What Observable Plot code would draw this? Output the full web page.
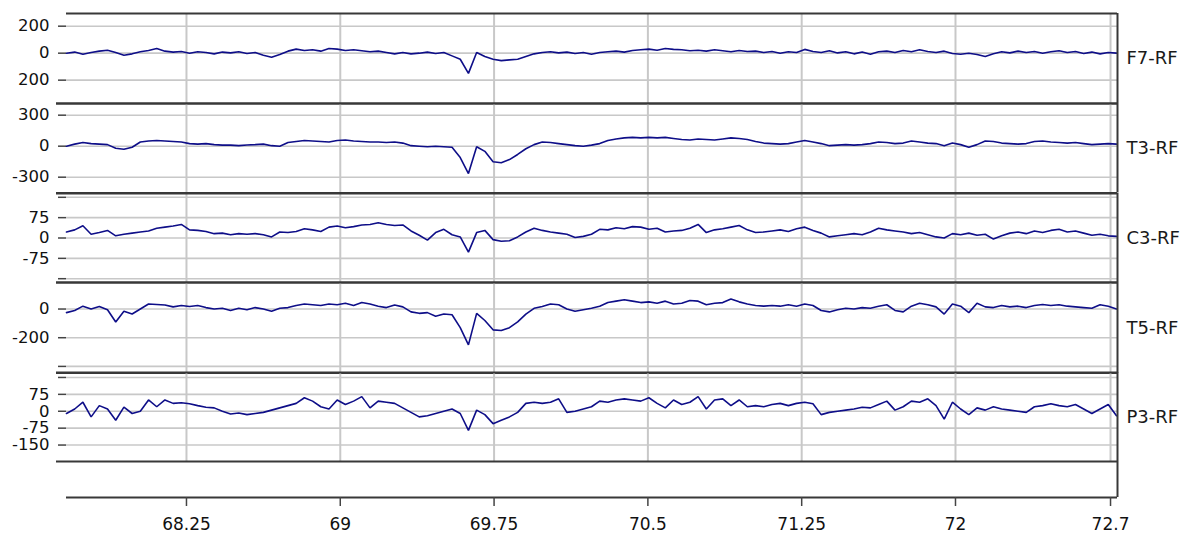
<!DOCTYPE html>
<html>
<head>
<meta charset="utf-8">
<script src="https://cdn.jsdelivr.net/npm/d3@7"></script>
<script src="https://cdn.jsdelivr.net/npm/@observablehq/plot@0.6"></script>
<style>
  body { margin: 0; background: #fff; }
  #chart { position: relative; width: 1183px; height: 533px; overflow: hidden; background: #fff; }
  #chart > div { position: absolute; left: 0; }
</style>
</head>
<body>
<div id="chart"></div>
<script>
// ---------- data ----------
const channelNames = ["F7-RF", "T3-RF", "C3-RF", "T5-RF", "P3-RF"];

// sampling: one sample every 0.04 s starting at 67.665 s
const sampleStart = 67.665, sampleStep = 0.04, sampleCount = 129;
const sampleTimes = d3.range(sampleCount).map(i => sampleStart + i * sampleStep);

const F7 = [0,8,-8,5,15,22,5,-15,-5,10, 20,35,15,8,12,0,10,5,-5,8, 2,10,-3,5,-15,-30,-10,15,30,20,
  25,15,35,30,20,25,18,10,15,5, -5,5,-5,0,8,-3,5,-20,-45,-150, 5,-25,-45,-55,-50,-45,-25,-5,5,10,
  2,8,-3,5,-8,5,10,15,8,20, 25,30,22,35,28,25,18,22,15,25, 18,10,20,12,15,5,12,0,10,5,
  28,12,5,18,2,10,-5,8,-8,10, 15,5,20,10,25,12,5,15,-2,-8, 0,-10,-25,-5,10,2,15,5,12,0,
  10,18,5,12,-2,8,-5,5,0];
const T3 = [0,20,35,25,20,15,-20,-30,-10,40, 50,55,50,45,40,25,20,25,15,10, 10,5,12,15,20,5,0,35,45,55,
  50,45,40,55,60,50,45,40,40,35, 40,30,5,0,-5,0,-5,-10,-110,-265, -5,-50,-150,-160,-130,-80,-25,15,40,35,
  25,15,5,0,10,25,55,70,80,85, 80,85,80,85,75,65,60,70,65,60, 70,80,75,65,45,30,25,20,25,40,
  55,40,25,5,10,15,10,15,25,40, 35,25,30,50,40,30,25,5,30,15, -10,15,50,45,30,25,20,25,45,50,
  40,35,30,35,25,15,20,25,20];
const C3 = [22,30,45,14,20,28,8,14,18,22, 26,36,40,44,50,30,28,24,16,18, 12,16,14,16,12,4,22,20,24,34,
  30,24,40,44,38,42,48,50,56,50, 46,48,26,10,-8,20,32,12,4,-52, 20,28,-6,-12,-10,4,22,36,28,22,
  18,14,2,6,14,32,30,38,34,42, 40,32,36,22,26,28,36,50,20,30, 34,40,46,30,20,22,26,30,24,34,
  40,28,18,4,8,12,16,12,22,36, 30,26,22,16,20,12,4,0,16,12, 18,10,14,-4,8,18,22,16,26,20,
  28,32,22,26,18,10,14,8,6];
const T5 = [-25,-10,20,0,18,-5,-90,-15,-35,0, 35,32,28,15,25,18,25,10,0,5, -10,5,-5,10,0,-15,5,10,25,35,
  30,25,35,30,40,25,45,35,20,10, 28,15,-20,-30,-25,-50,-35,-40,-130,-250, -30,-80,-145,-150,-130,-90,-35,5,18,35,
  30,0,-15,-5,5,20,45,55,65,55, 45,50,40,55,35,40,60,55,30,40, 45,70,50,35,25,20,25,20,30,20,
  35,25,-10,-20,-5,5,0,10,5,20, 30,-10,-20,20,40,30,15,-35,35,20, -25,40,15,10,25,15,20,10,25,32,
  25,30,20,15,10,5,30,20,0];
const P3 = [-10,10,40,-25,25,10,-40,18,-10,0, 50,20,50,35,38,33,25,18,15,0, -12,-8,-15,-10,-5,5,15,25,35,60,
  45,20,10,50,30,45,65,15,45,40, 35,15,-5,-25,-20,-10,0,10,-10,-85, 5,-15,-55,-40,-25,-5,35,40,35,40,
  55,-5,0,10,20,45,40,50,55,50, 45,60,35,15,50,30,40,65,10,50, 55,25,50,20,25,20,30,35,25,35,
  40,33,-15,-5,0,5,10,18,15,30, 45,5,20,45,40,55,25,-35,40,10, -15,15,5,20,10,5,0,-5,20,25,
  33,25,20,30,10,-10,10,30,-20];

// y tick values and their printed labels per channel
const F7Ticks = [200, 0, -200], F7Labels = ["200", "0", "200"];
const T3Ticks = [300, 0, -300], T3Labels = ["300", "0", "-300"];
const C3Ticks = [150, 75, 0, -75, -150], C3Labels = ["", "75", "0", "-75", ""];
const T5Ticks = [0, -200, -400], T5Labels = ["0", "-200", ""];
const P3Ticks = [150, 75, 0, -75, -150], P3Labels = ["", "75", "0", "-75", "-150"];

// x ticks (seconds) and labels
const xTicks = [68.25, 69, 69.75, 70.5, 71.25, 72, 72.756];
const xLabels = ["68.25", "69", "69.75", "70.5", "71.25", "72", "72.7"];

// ---------- layout ----------
const W = 1183;
const FONT = "'DejaVu Sans', Verdana, sans-serif";
const xDomain = [67.665, 72.79];
const panelEdges = [13, 103, 192.5, 281.5, 372, 461];
const yDomains = [[-373, 294], [-453, 413], [-164, 164], [-446, 185], [-223, 172]];
const channels = [
  {name: channelNames[0], values: F7, ticks: F7Ticks, labels: F7Labels},
  {name: channelNames[1], values: T3, ticks: T3Ticks, labels: T3Labels},
  {name: channelNames[2], values: C3, ticks: C3Ticks, labels: C3Labels},
  {name: channelNames[3], values: T5, ticks: T5Ticks, labels: T5Labels},
  {name: channelNames[4], values: P3, ticks: P3Ticks, labels: P3Labels}
];

const GRID = "#c8c8c8", DARK = "#383838", TRACE = "#0e0e88";
const chart = document.getElementById("chart");
const pad = 8;

channels.forEach((ch, k) => {
  const top = panelEdges[k], bottom = panelEdges[k + 1];
  const h = bottom - top;
  const dom = yDomains[k];
  const data = ch.values.map((v, i) => ({t: sampleTimes[i], v}));
  const fmt = new Map(ch.ticks.map((t, i) => [t, ch.labels[i]]));
  const svg = Plot.plot({
    width: W, height: h + 2 * pad,
    marginLeft: 66, marginRight: 66, marginTop: pad, marginBottom: pad,
    style: {background: "transparent", overflow: "visible", fontFamily: FONT},
    x: {domain: xDomain, axis: null},
    y: {domain: dom, axis: null},
    marks: [
      Plot.ruleX(xTicks, {stroke: GRID, strokeWidth: 2}),
      Plot.ruleY(ch.ticks, {stroke: GRID, strokeWidth: 1.6}),
      Plot.axisY(ch.ticks, {anchor: "left", label: null, tickSize: 8, tickPadding: 9,
        tickFormat: d => fmt.get(d), fontSize: 16.5, stroke: "#444", strokeWidth: 1.5, fill: "#111"}),
      Plot.ruleY([dom[1]], {stroke: DARK, strokeWidth: 2, insetLeft: k === 0 ? 0 : -10}),
      Plot.ruleY([dom[0]], {stroke: DARK, strokeWidth: 2, insetLeft: -10}),
      Plot.lineY(data, {x: "t", y: "v", stroke: TRACE, strokeWidth: 1.6, strokeLinejoin: "miter"}),
      Plot.ruleX([xDomain[1]], {stroke: DARK, strokeWidth: 2}),
      Plot.text([ch.name], {frameAnchor: "right", dx: 9, textAnchor: "start", fontSize: 18, fill: "#1a1a1a"})
    ]
  });
  const wrap = document.createElement("div");
  wrap.style.top = (top - pad) + "px";
  wrap.appendChild(svg);
  chart.appendChild(wrap);
});

// x axis strip
const xfmt = new Map(xTicks.map((t, i) => [t, xLabels[i]]));
const axisSvg = Plot.plot({
  width: W, height: 72,
  marginLeft: 66, marginRight: 66, marginTop: 0, marginBottom: 36,
  style: {background: "transparent", overflow: "visible", fontFamily: FONT},
  x: {domain: xDomain, axis: null},
  y: {domain: [0, 1], axis: null},
  marks: [
    Plot.ruleY([0], {stroke: DARK, strokeWidth: 2}),
    Plot.ruleX([xDomain[1]], {stroke: DARK, strokeWidth: 2}),
    Plot.axisX(xTicks, {anchor: "bottom", label: null, tickSize: 9, tickPadding: 11,
      tickFormat: d => xfmt.get(d), fontSize: 17, stroke: "#444", strokeWidth: 1.5, fill: "#111"})
  ]
});
const axisWrap = document.createElement("div");
axisWrap.style.top = panelEdges[5] + "px";
axisWrap.appendChild(axisSvg);
chart.appendChild(axisWrap);
</script>
</body>
</html>
